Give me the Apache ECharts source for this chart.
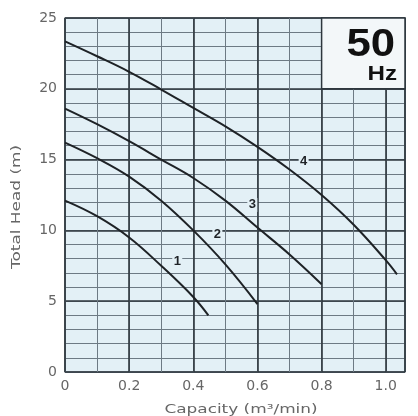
<!DOCTYPE html>
<html><head><meta charset="utf-8">
<script src="https://cdn.jsdelivr.net/npm/echarts@6/dist/echarts.min.js"></script>
<style>html,body{margin:0;padding:0;background:#fff}#c{width:418px;height:416px}</style>
</head><body><div id="c"></div>
<script>
// Curve data: [capacity m3/min, total head m]
const curve1 = [[0,12.1],[0.1,11.0],[0.2,9.5],[0.3,7.5],[0.4,5.3],[0.447,4.0]];
const curve2 = [[0,16.2],[0.1,15.1],[0.2,13.8],[0.3,12.1],[0.4,10.0],[0.5,7.6],[0.6,4.8]];
const curve3 = [[0,18.6],[0.1,17.5],[0.2,16.3],[0.3,15.0],[0.4,13.7],[0.5,12.1],[0.6,10.2],[0.7,8.3],[0.8,6.2]];
const curve4 = [[0,23.35],[0.1,22.3],[0.2,21.2],[0.3,19.95],[0.4,18.65],[0.5,17.35],[0.6,15.9],[0.7,14.3],[0.8,12.5],[0.9,10.4],[1.0,7.9],[1.035,6.9]];
const curveNames = ['1','2','3','4'];
const curveLabelAt = [[0.35,7.8],[0.475,9.7],[0.584,11.8],[0.744,14.9]];
const xTickLabels = ['0','0.2','0.4','0.6','0.8','1.0'];
const yTickLabels = ['0','5','10','15','20','25'];
const xAxisTitle = 'Capacity (m\u00B3/min)';
const yAxisTitle = 'Total Head (m)';
const freqBox = {x0:0.8, x1:1.06, y0:20, y1:25, big:'50', small:'Hz'};

const X_MAX = 1.06, Y_MAX = 25;
const font = 'Liberation Sans';
const tickFont = 'DejaVu Sans';
const minorLine = {lineStyle:{color:'#6d7a84', width:1}};
const majorLine = {lineStyle:{color:'#2e373e', width:1.6}};
const curves = [curve1, curve2, curve3, curve4];

const chart = echarts.init(document.getElementById('c'));
chart.setOption({
  animation:false,
  grid:{left:65, right:13, top:18, bottom:44, show:true, backgroundColor:'#e3f0f6', borderColor:'#2e373e', borderWidth:1.2},
  xAxis:[
    {type:'value', min:0, max:X_MAX, interval:0.1, position:'top',
     axisLine:{show:false}, axisTick:{show:false}, axisLabel:{show:false}, splitLine:Object.assign({show:true}, minorLine)},
    {type:'value', min:0, max:X_MAX, interval:0.2, position:'bottom',
     axisLine:{show:false}, axisTick:{show:false}, splitLine:Object.assign({show:true}, majorLine),
     axisLabel:{color:'#666', fontSize:14, fontFamily:tickFont, margin:7,
       formatter:v=>{const k=Math.round(v*5); return Math.abs(v*5-k)<1e-6 && k<xTickLabels.length ? xTickLabels[k] : '';}}}
  ],
  yAxis:[
    {type:'value', min:0, max:Y_MAX, interval:1, position:'right',
     axisLine:{show:false}, axisTick:{show:false}, axisLabel:{show:false}, splitLine:Object.assign({show:true}, minorLine)},
    {type:'value', min:0, max:Y_MAX, interval:5, position:'left',
     axisLine:{show:false}, axisTick:{show:false}, splitLine:Object.assign({show:true}, majorLine),
     axisLabel:{color:'#666', fontSize:14, fontFamily:tickFont, margin:8,
       formatter:v=>yTickLabels[Math.round(v/5)]}}
  ],
  series: curves.map((d,i)=>({
    type:'line', xAxisIndex:0, yAxisIndex:0, data:d, smooth:0.4, symbol:'none',
    lineStyle:{color:'#1e2226', width:2},
    markPoint:{symbol:'rect', symbolSize:[10,14], silent:true,
      itemStyle:{color:'#e3f0f6'},
      label:{show:true, position:'inside', formatter:curveNames[i], color:'#1e2226', fontSize:13, fontWeight:'bold', fontFamily:font},
      data:[{coord:curveLabelAt[i]}]},
    markArea: i===3 ? {silent:true,
      itemStyle:{color:'#f3f7f9', borderColor:'#2e373e', borderWidth:1.5},
      data:[[{coord:[freqBox.x0,freqBox.y0]},{coord:[freqBox.x1,freqBox.y1]}]]} : undefined
  }))
});
// Box text and axis titles anchored to the grid in data space
const tr = chart.convertToPixel({xAxisIndex:0, yAxisIndex:0}, [freqBox.x1, freqBox.y1]);
const o = chart.convertToPixel({xAxisIndex:0, yAxisIndex:0}, [0, 0]);
const xEnd = chart.convertToPixel({xAxisIndex:0, yAxisIndex:0}, [X_MAX, Y_MAX]);
chart.setOption({graphic:[
  {type:'text', x:tr[0]-10, y:tr[1]+8, scaleX:1.12, z:100, style:{text:freqBox.big, font:'bold 39px "Liberation Sans"', fill:'#111', align:'right', verticalAlign:'top'}},
  {type:'text', x:tr[0]-8, y:tr[1]+46, scaleX:1.15, z:100, style:{text:freqBox.small, font:'bold 21px "Liberation Sans"', fill:'#111', align:'right', verticalAlign:'top'}},
  {type:'text', x:(o[0]+xEnd[0])/2+6, y:o[1]+38, scaleX:1.3, z:100, style:{text:xAxisTitle, font:'13px "DejaVu Sans"', fill:'#666', align:'center', verticalAlign:'middle'}},
  {type:'text', x:17, y:(o[1]+xEnd[1])/2+12, rotation:Math.PI/2, scaleX:1.3, z:100, style:{text:yAxisTitle, font:'13px "DejaVu Sans"', fill:'#666', align:'center', verticalAlign:'middle'}}
]});
</script></body></html>
